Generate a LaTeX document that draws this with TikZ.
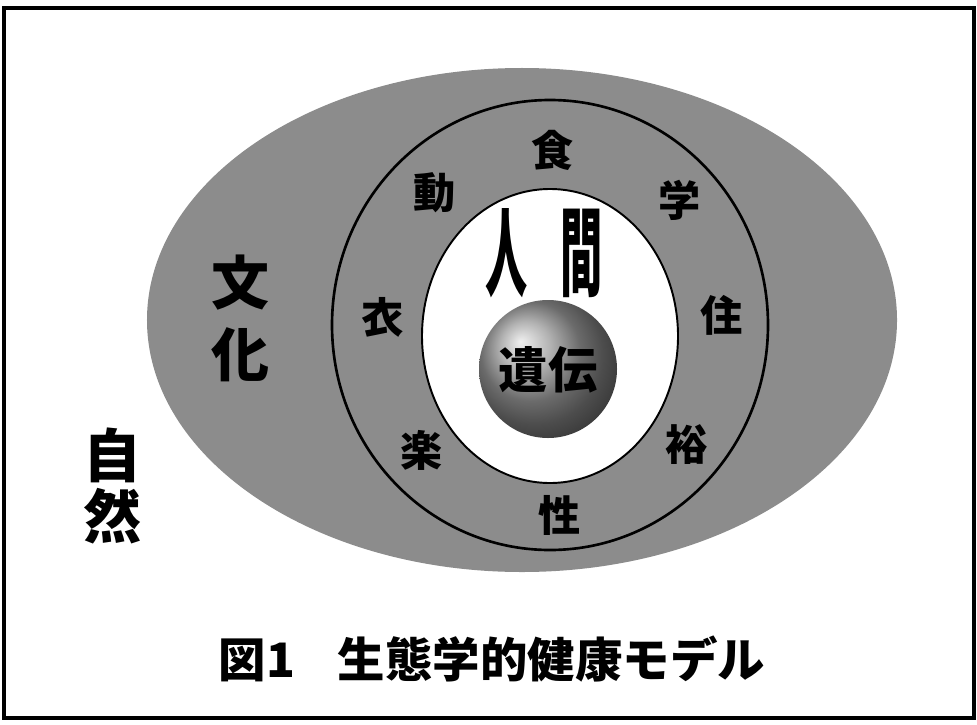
\documentclass[tikz,border=0pt]{standalone}
\usepackage{fontspec}
\usepackage{tikz}
\usepackage{xcolor}
\newfontfamily\jpfont{Noto Sans CJK JP}

\begin{document}
\begin{tikzpicture}[x=0.2mm,y=-0.2mm]%
  \tikzstyle{ringc}=[inner sep=0,font=\jpfont\bfseries\fontsize{24}{24}\selectfont]
  \tikzstyle{bigc}=[inner sep=0,align=center,font=\jpfont\bfseries\fontsize{33}{41}\selectfont]
  \tikzstyle{tallc}=[inner sep=0,yscale=2.3,font=\jpfont\bfseries\fontsize{24}{24}\selectfont]
  \useasboundingbox (0,0) rectangle (977,724);
  \draw[line width=1.8pt] (4,8) rectangle (974,718);
  \fill[black!45] (522,320) ellipse [x radius=75mm,y radius=50.4mm];
  \draw[line width=1.5pt] (550,325) ellipse [x radius=43.6mm,y radius=45mm];
  \filldraw[fill=white,line width=1.1pt] (550,336) ellipse [x radius=25.6mm,y radius=29.4mm];
  \shade[ball color=black!40] (548,369) circle [radius=13.8mm];
  \node(jin)[tallc] at (507,253) {人};
  \node(kan)[tallc] at (582,253) {間};
  \node(iden)[inner sep=0,font=\jpfont\bfseries\fontsize{28}{28}\selectfont] at (548,370) {遺伝};
  \node(shoku)[ringc] at (553,150) {食};
  \node(dou)[ringc] at (435,193) {動};
  \node(gaku)[ringc] at (680,200) {学};
  \node(i)[ringc] at (383,317) {衣};
  \node(juu)[ringc] at (722,315) {住};
  \node(raku)[ringc] at (422,450) {楽};
  \node(yuu)[ringc] at (687,445) {裕};
  \node(sei)[ringc] at (560,515) {性};
  \node(bunka)[bigc] at (240,318) {文\\化};
  \node(shizen)[bigc,font=\jpfont\bfseries\fontsize{33}{35}\selectfont] at (112,486) {自\\然};
  \node(title)[inner sep=0,font=\jpfont\bfseries\fontsize{27}{27}\selectfont] at (492,659) {図1\hspace{0.9em}生態学的健康モデル};
\end{tikzpicture}
\end{document}
